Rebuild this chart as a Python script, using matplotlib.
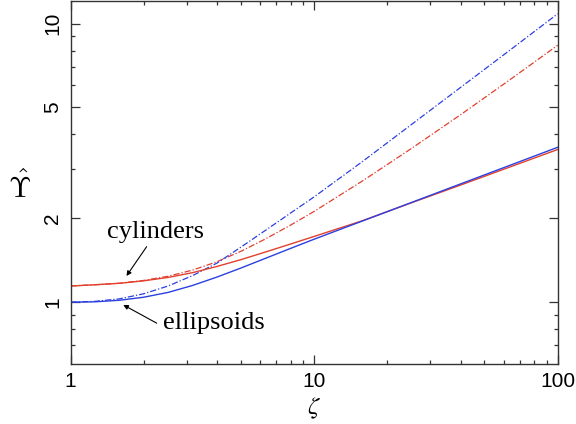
import numpy as np
import matplotlib
matplotlib.use("Agg")
import matplotlib.pyplot as plt
from matplotlib.ticker import LogLocator, NullFormatter, FixedLocator, FixedFormatter

# aspect ratio zeta (shared by all curves)
zeta = [1, 1.259, 1.585, 1.995, 2.512, 3.162, 3.981, 5.012, 6.310, 7.943,
        10, 15.85, 25.12, 39.81, 63.10, 100]

# exact results (solid)
ups_ellipsoids = [1.000, 1.003, 1.016, 1.042, 1.084, 1.148, 1.230, 1.327, 1.437, 1.556,
                  1.683, 1.959, 2.280, 2.655, 3.090, 3.597]
ups_cylinders = [1.143, 1.155, 1.169, 1.193, 1.227, 1.276, 1.343, 1.422, 1.514, 1.614,
                 1.722, 1.963, 2.275, 2.630, 3.048, 3.532]

# approximations (dash-dot)
ups_ellipsoids_approx = [1.000, 1.007, 1.028, 1.072, 1.143, 1.245, 1.380, 1.578, 1.811, 2.080,
                         2.388, 3.206, 4.345, 5.888, 7.980, 10.84]
ups_cylinders_approx = [1.143, 1.155, 1.169, 1.197, 1.239, 1.303, 1.396, 1.524, 1.687, 1.884,
                        2.118, 2.729, 3.565, 4.699, 6.252, 8.356]

RED = '#e2402e'
BLUE = '#2b40e0'
DASHDOT = (0, (5, 1.6, 1, 1.6))

plt.rcParams['mathtext.fontset'] = 'stix'

fig = plt.figure(figsize=(5.76, 4.24), dpi=100)
ax = fig.add_axes([0.1227, 0.1415, 0.8455, 0.855])

ax.plot(zeta, ups_cylinders_approx, color=RED, lw=0.9, linestyle=DASHDOT)
ax.plot(zeta, ups_ellipsoids_approx, color=BLUE, lw=0.9, linestyle=DASHDOT)
ax.plot(zeta, ups_cylinders, color=RED, lw=1.0)
ax.plot(zeta, ups_ellipsoids, color=BLUE, lw=1.0)

ax.set_xscale('log')
ax.set_yscale('log')
ax.set_xlim(1, 100)
ax.set_ylim(0.6, 12)

ax.xaxis.set_major_locator(FixedLocator([1, 10, 100]))
ax.xaxis.set_major_formatter(FixedFormatter(['1', '10', '100']))
ax.xaxis.set_minor_locator(LogLocator(base=10, subs=np.arange(2, 10)))
ax.xaxis.set_minor_formatter(NullFormatter())
ax.yaxis.set_major_locator(FixedLocator([1, 2, 5, 10]))
ax.yaxis.set_major_formatter(FixedFormatter(['1', '2', '5', '10']))
ax.yaxis.set_minor_locator(FixedLocator([0.7, 0.8, 0.9, 3, 4, 6, 7, 8, 9]))
ax.yaxis.set_minor_formatter(NullFormatter())

ax.tick_params(which='both', direction='in', top=True, right=True, color='#333333', width=0.9)
ax.tick_params(which='major', length=6.5, labelsize=15, pad=6)
ax.tick_params(which='minor', length=3.2)
for lab in ax.get_xticklabels():
    lab.set_family('Liberation Sans')
for lab in ax.get_yticklabels():
    lab.set_family('Liberation Sans')
    lab.set_rotation(90)
    lab.set_va('center')
for sp in ax.spines.values():
    sp.set_color('#333333')
    sp.set_linewidth(1.0)

ax.set_xlabel(r'$\zeta$', fontsize=18, labelpad=3)
fig.text(0.033, 0.56, r'$\hat{\Upsilon}$', fontsize=21, ha='center', va='center',
         math_fontfamily='cm')

ax.text(2.22, 1.79, 'cylinders', fontsize=19, family='Liberation Serif', ha='center', va='center')
ax.annotate('', xy=(1.695, 1.242), xytext=(2.051, 1.582),
            arrowprops=dict(arrowstyle='-|>', color='black', lw=0.8, shrinkA=0, shrinkB=0,
                            mutation_scale=7))
ax.text(3.88, 0.843, 'ellipsoids', fontsize=19, family='Liberation Serif', ha='center', va='center')
ax.annotate('', xy=(1.644, 0.978), xytext=(2.255, 0.841),
            arrowprops=dict(arrowstyle='-|>', color='black', lw=0.8, shrinkA=0, shrinkB=0,
                            mutation_scale=7))

fig.savefig('out.png', dpi=100)
